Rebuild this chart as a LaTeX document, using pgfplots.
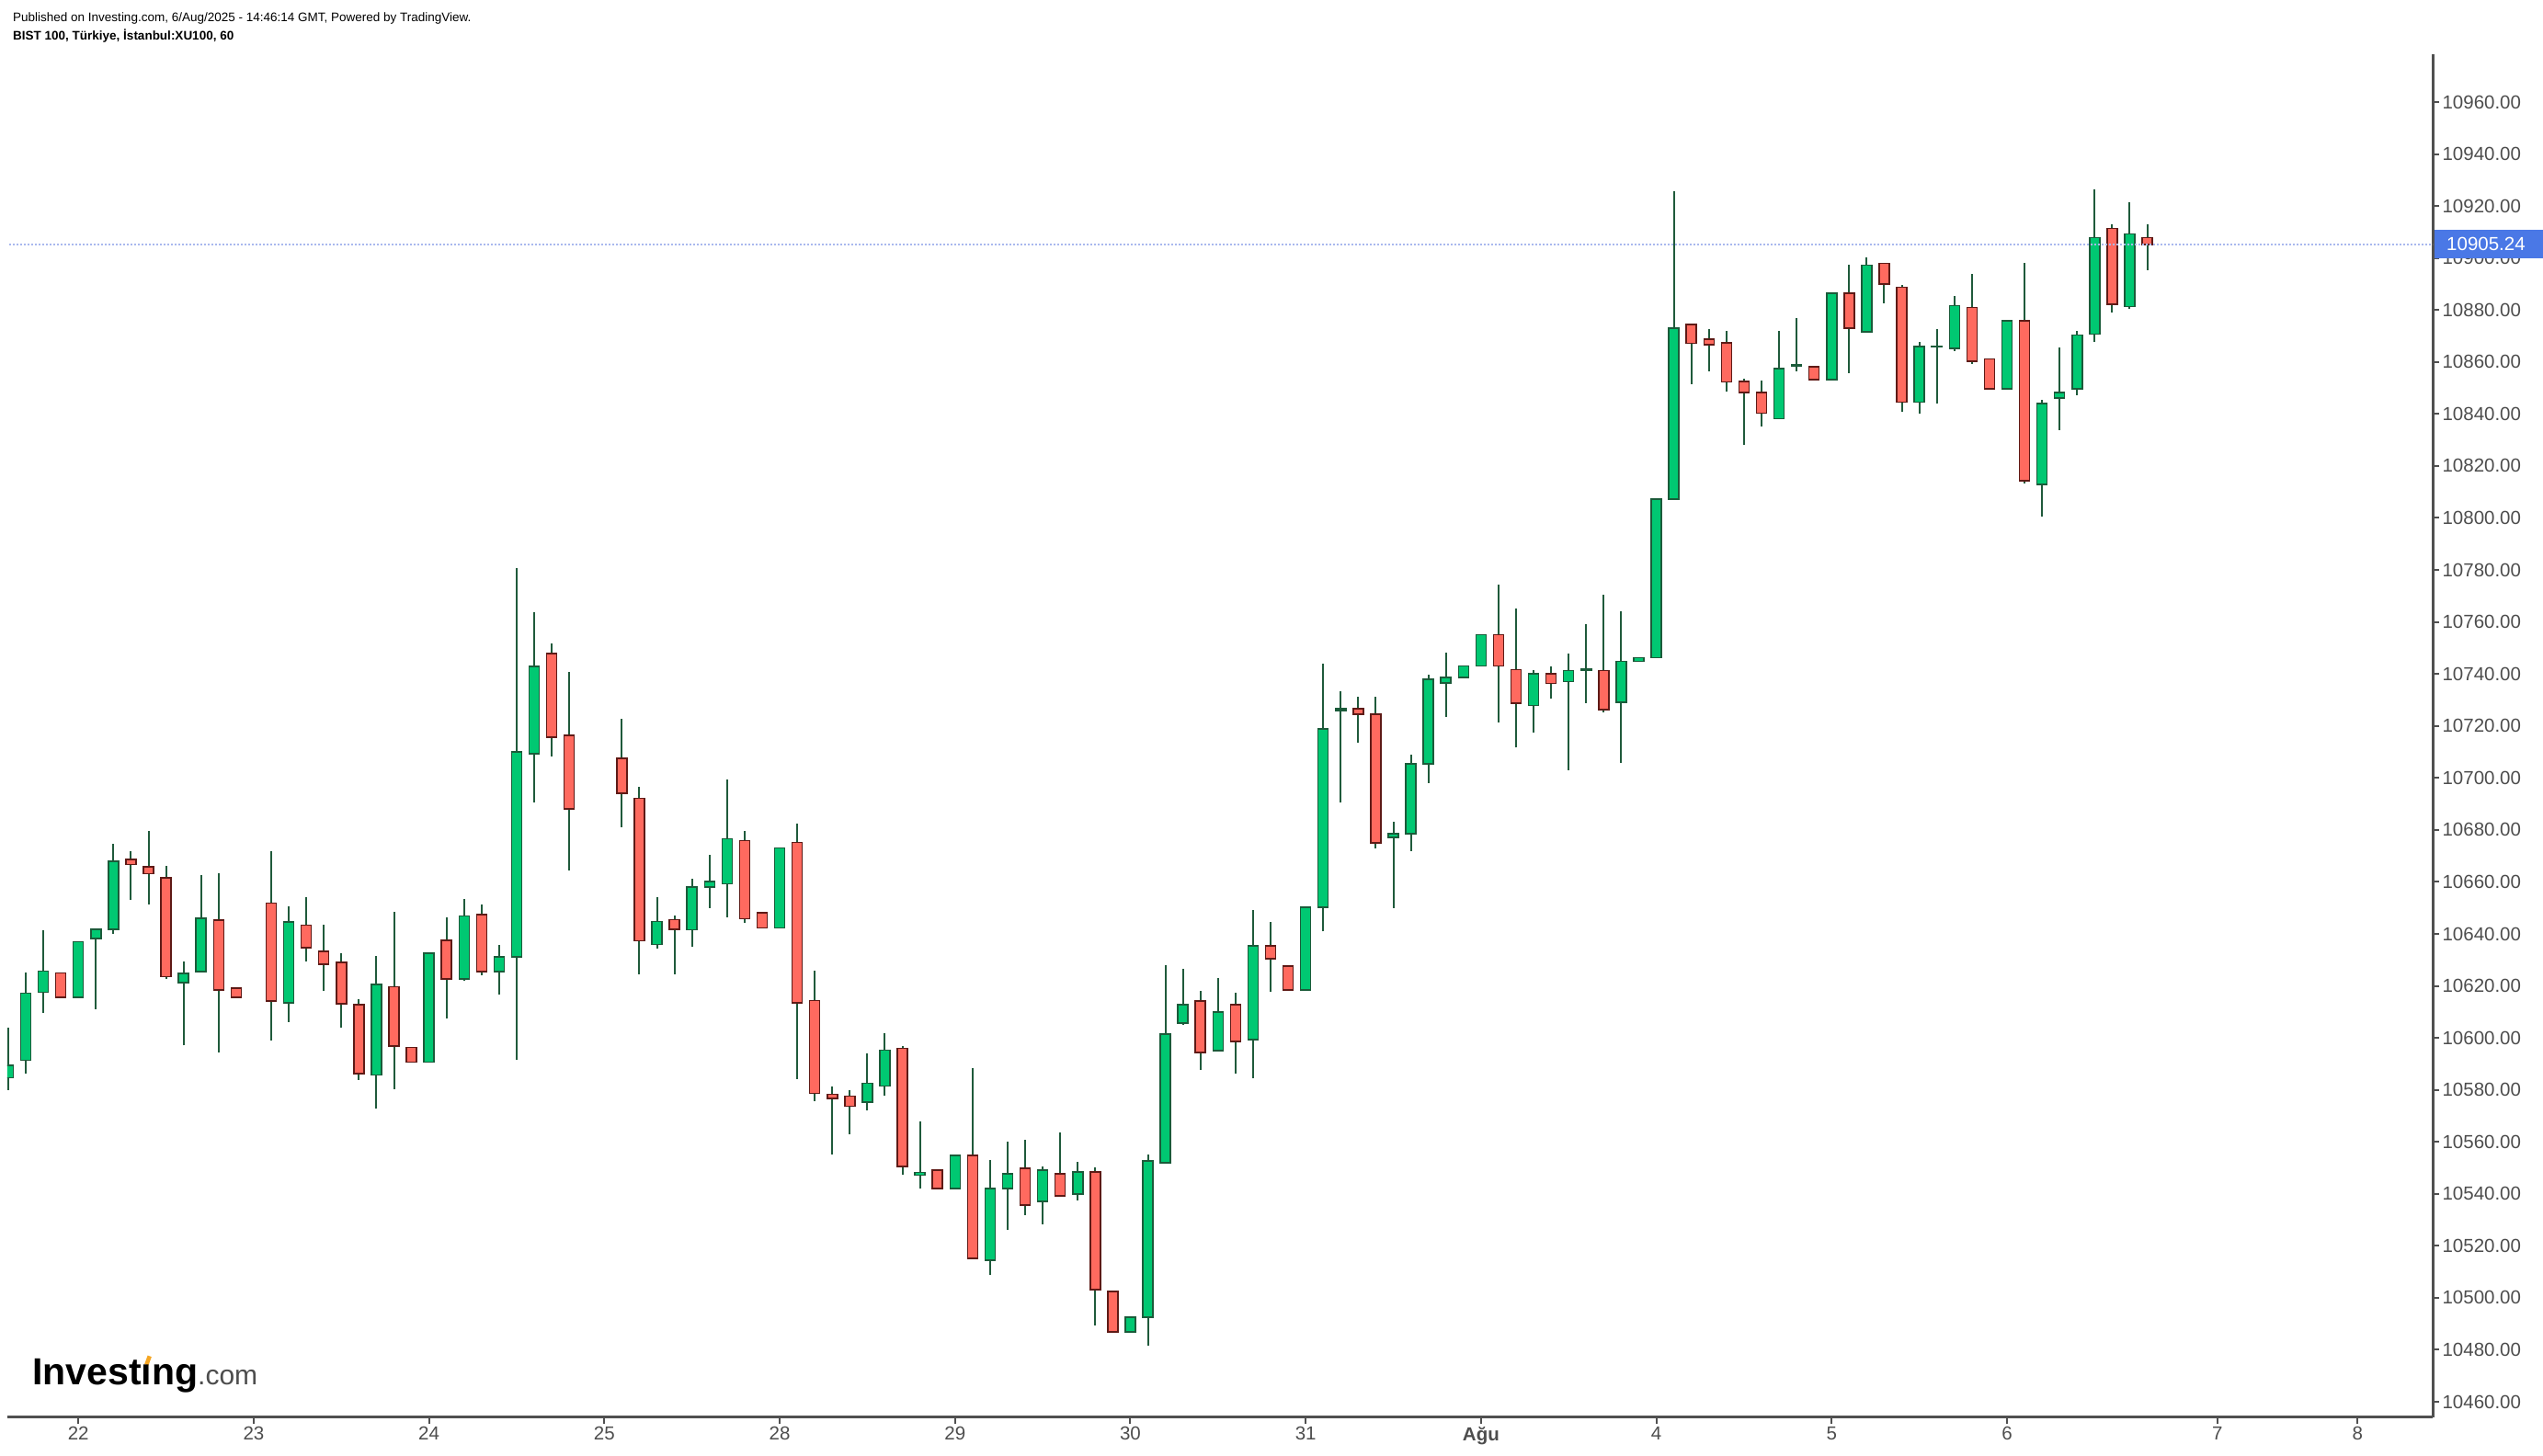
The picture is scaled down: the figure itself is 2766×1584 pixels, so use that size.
\documentclass[border=0pt]{standalone}
\usepackage{fontspec}
\setmainfont{Liberation Sans}
\usepackage{pgfplots}
\usepackage{pgfplotstable}
\pgfplotsset{compat=1.18}
\definecolor{gfill}{HTML}{00C872}
\definecolor{gedge}{HTML}{1B5B3A}
\definecolor{rfill}{HTML}{FF6A5F}
\definecolor{redge}{HTML}{5E1A16}
\definecolor{wickc}{HTML}{1F5A3B}
\definecolor{axisc}{HTML}{505050}
\definecolor{labc}{HTML}{4D4D4D}
\definecolor{priceblue}{HTML}{4A78E6}
\definecolor{pline}{HTML}{A9B8EE}
\definecolor{logoorange}{HTML}{F5A623}
\definecolor{logogray}{HTML}{4D4D4D}

\pgfplotstableread{
k O H L C
-4 10584.6 10603.8 10580.0 10589.4
-3 10591.4 10625.0 10586.4 10617.1
-2 10617.6 10641.3 10609.7 10625.6
0 10615.6 10636.9 10615.6 10636.9
1 10638.2 10641.8 10611.1 10641.8
2 10641.8 10674.5 10640.1 10667.9
6 10621.3 10629.3 10597.1 10624.8
7 10625.5 10662.5 10625.5 10646.0
10 10644.6 10644.6 10644.6 10644.6
12 10613.5 10650.6 10606.2 10644.6
17 10585.7 10631.4 10572.7 10620.5
20 10590.7 10632.6 10590.7 10632.6
22 10622.7 10653.5 10621.8 10646.8
24 10625.5 10635.6 10616.6 10631.1
25 10631.1 10780.8 10591.7 10710.0
26 10709.3 10763.7 10690.6 10742.8
30 10707.4 10707.4 10707.4 10707.4
33 10636.0 10654.1 10634.4 10644.7
35 10641.6 10661.2 10635.2 10658.1
36 10658.0 10670.4 10650.0 10660.2
37 10659.3 10699.4 10646.5 10676.5
40 10642.3 10673.0 10642.3 10673.0
45 10575.2 10594.0 10572.2 10582.5
46 10581.5 10601.8 10577.9 10595.2
48 10547.1 10567.7 10541.9 10548.3
50 10542.0 10554.8 10542.0 10554.8
52 10514.5 10552.9 10508.7 10542.0
53 10542.0 10560.0 10526.2 10547.7
55 10537.1 10550.6 10528.4 10549.2
57 10539.9 10552.2 10537.6 10548.4
60 10486.9 10492.5 10486.9 10492.5
61 10492.5 10555.0 10481.7 10552.6
62 10551.9 10627.8 10551.9 10601.4
63 10605.7 10626.4 10605.0 10612.8
65 10595.1 10622.9 10595.1 10609.9
67 10599.3 10649.2 10584.4 10635.4
70 10618.4 10650.2 10618.4 10650.2
71 10650.2 10743.9 10640.9 10718.8
72 10726.0 10733.2 10690.4 10726.6
75 10677.1 10683.0 10650.0 10678.5
76 10678.5 10709.1 10671.9 10705.4
77 10705.4 10739.7 10698.1 10737.9
78 10736.5 10748.1 10723.5 10738.7
79 10738.7 10743.0 10738.7 10743.0
80 10743.0 10755.0 10743.0 10755.0
83 10727.9 10741.4 10717.6 10740.0
85 10737.0 10747.9 10703.0 10741.3
86 10741.5 10759.3 10728.9 10741.9
88 10729.1 10764.2 10705.8 10744.9
89 10744.9 10746.3 10744.9 10746.3
90 10746.3 10807.2 10746.3 10807.2
91 10807.2 10925.7 10807.2 10873.0
97 10838.1 10871.9 10838.1 10857.5
98 10858.6 10876.9 10856.5 10859.0
100 10853.2 10886.7 10852.8 10886.5
102 10871.6 10900.2 10871.6 10897.2
105 10844.6 10867.6 10840.3 10866.0
106 10865.8 10872.5 10843.9 10866.2
107 10865.2 10885.4 10864.3 10881.6
110 10849.6 10875.9 10849.6 10875.9
112 10812.9 10845.6 10800.6 10844.1
113 10846.1 10865.6 10833.9 10848.3
114 10849.6 10871.8 10847.3 10870.3
115 10870.7 10926.4 10867.8 10907.8
117 10881.4 10921.4 10880.6 10909.2
}\greentab

\pgfplotstableread{
k O H L C
-1 10624.9 10624.9 10615.6 10615.6
3 10668.6 10671.7 10652.9 10666.6
4 10665.8 10679.5 10651.4 10663.1
5 10661.6 10666.0 10622.6 10623.5
8 10645.3 10663.2 10594.3 10618.4
9 10619.1 10619.1 10615.6 10615.6
11 10651.8 10671.7 10599.1 10614.2
13 10643.3 10654.0 10629.5 10634.7
14 10633.3 10643.5 10618.1 10628.3
15 10629.0 10632.7 10603.8 10613.2
16 10612.7 10615.0 10583.9 10586.3
18 10619.7 10648.5 10580.4 10596.9
19 10596.3 10596.3 10590.7 10590.7
21 10637.6 10646.4 10607.3 10622.7
23 10647.4 10651.3 10623.9 10625.5
27 10747.8 10751.6 10708.3 10715.6
28 10716.4 10740.7 10664.4 10688.0
29 10688.4 10688.4 10688.4 10688.4
31 10707.6 10722.7 10681.1 10694.0
32 10692.1 10696.6 10624.5 10637.4
34 10645.4 10647.1 10624.5 10641.8
38 10675.8 10679.6 10644.3 10645.9
39 10648.2 10648.2 10642.3 10642.3
41 10675.1 10682.4 10584.2 10613.5
42 10614.3 10625.8 10575.7 10578.7
43 10578.2 10581.3 10555.2 10576.7
44 10577.5 10579.9 10563.0 10573.7
47 10595.9 10596.7 10547.5 10550.5
49 10549.2 10549.2 10542.0 10542.0
51 10554.8 10588.2 10515.2 10515.2
54 10549.9 10560.7 10531.9 10535.7
56 10547.7 10563.5 10539.2 10539.2
58 10548.4 10550.1 10489.5 10503.1
59 10502.4 10502.4 10486.9 10486.9
64 10614.2 10618.0 10587.8 10594.4
66 10612.7 10617.2 10586.4 10598.6
68 10635.4 10644.7 10617.6 10630.5
69 10627.6 10627.6 10618.4 10618.4
73 10726.6 10731.1 10713.7 10724.5
74 10724.5 10731.1 10672.8 10675.0
81 10755.0 10774.3 10721.4 10743.0
82 10741.6 10765.1 10711.6 10728.7
84 10740.0 10742.9 10730.4 10736.4
87 10741.3 10770.5 10725.3 10726.3
92 10874.4 10874.4 10851.5 10867.2
93 10868.8 10872.6 10856.5 10866.6
94 10867.3 10871.9 10848.5 10852.3
95 10852.5 10853.4 10828.0 10848.2
96 10848.2 10852.8 10835.2 10840.3
99 10858.1 10858.1 10853.2 10853.2
101 10886.5 10897.4 10855.8 10873.0
103 10897.9 10897.9 10882.6 10890.0
104 10888.7 10889.6 10840.9 10844.6
108 10880.9 10893.8 10859.3 10860.3
109 10861.1 10861.1 10849.6 10849.6
111 10875.9 10898.1 10813.3 10814.3
116 10911.3 10913.0 10879.1 10882.2
118 10907.8 10913.0 10895.4 10905.2
}\redtab

\pgfplotsset{chartbase/.style={at={(8pt,42.3pt)}, anchor=south west,
  scale only axis, width=2638pt, height=1483pt,
  xmin=-4.05, xmax=134.28, ymin=10454.1, ymax=10978.5}}

\begin{document}
\begin{tikzpicture}
\useasboundingbox (0pt,0pt) rectangle (2766pt,1584pt);
% axis with wicks, ticks, labels
\begin{axis}[chartbase,
  axis x line=bottom, axis y line=right,
  axis line style={-, line width=3pt, color=axisc},
  xtick={0,10,20,30,40,50,60,70,80,90,100,110,122,130},
  xticklabels={22,23,24,25,28,29,30,31,\textbf{Ağu},4,5,6,7,8},
  ytick={10460,10480,...,10960},
  scaled y ticks=false,
  tick align=outside, major tick length=7pt,
  tick style={line width=2pt, color=axisc},
  tick label style={font=\fontsize{20.5}{24}\selectfont, color=labc},
  /pgf/number format/fixed,
  /pgf/number format/fixed zerofill,
  /pgf/number format/precision=2,
  /pgf/number format/1000 sep={},
  /pgf/number format/assume math mode=true,
]
\addplot[draw=none, mark=none, error bars/.cd, y dir=plus, y explicit, error mark=none,
  error bar style={line width=2pt, draw=wickc}]
  table[x=k, y=L, y error plus expr=\thisrow{H}-\thisrow{L}] {\greentab};
\addplot[draw=none, mark=none, error bars/.cd, y dir=plus, y explicit, error mark=none,
  error bar style={line width=2pt, draw=wickc}]
  table[x=k, y=L, y error plus expr=\thisrow{H}-\thisrow{L}] {\redtab};
\end{axis}
% green bodies
\begin{axis}[chartbase, hide axis, ybar stacked, bar width=11pt]
\addplot[draw=none, fill=none] table[x=k, y=O] {\greentab};
\addplot[fill=gfill, draw=gedge, line width=1.5pt] table[x=k, y expr=\thisrow{C}-\thisrow{O}] {\greentab};
\end{axis}
% red bodies
\begin{axis}[chartbase, hide axis, ybar stacked, bar width=11pt]
\addplot[draw=none, fill=none] table[x=k, y=C] {\redtab};
\addplot[fill=rfill, draw=redge, line width=1.5pt] table[x=k, y expr=\thisrow{O}-\thisrow{C}] {\redtab};
\end{axis}
% current price line
\begin{axis}[chartbase, hide axis]
\addplot[color=pline, line width=2pt, dotted] coordinates {(-5,10905.24) (140,10905.24)};
\end{axis}
% price label
\fill[priceblue] (2647.5pt,1302.7pt) rectangle (2766pt,1333.7pt);
\node[anchor=west, inner sep=0pt, text=white] at (2661pt,1318.2pt) {\fontsize{20.5}{24}\selectfont 10905.24};
% header
\node[anchor=base west, inner sep=0pt, text=black] at (14pt,1560pt) {\fontsize{13.5}{16}\selectfont Published on Investing.com, 6/Aug/2025 - 14:46:14 GMT, Powered by TradingView.};
\node[anchor=base west, inner sep=0pt, text=black] at (14pt,1540pt) {\fontsize{13.5}{16}\selectfont\bfseries BIST 100, Türkiye, İstanbul:XU100, 60};
% logo
\node[anchor=base west, inner sep=0pt] at (35pt,77pt) {\fontsize{41}{41}\selectfont\bfseries Invest\makebox[0pt][l]{\hspace{3.5pt}\raisebox{23pt}{\textcolor{logoorange}{\rotatebox{-20}{\rule{4.5pt}{10pt}}}}}ıng{\fontsize{30}{30}\selectfont\mdseries\textcolor{logogray}{.com}}};
\end{tikzpicture}
\end{document}
